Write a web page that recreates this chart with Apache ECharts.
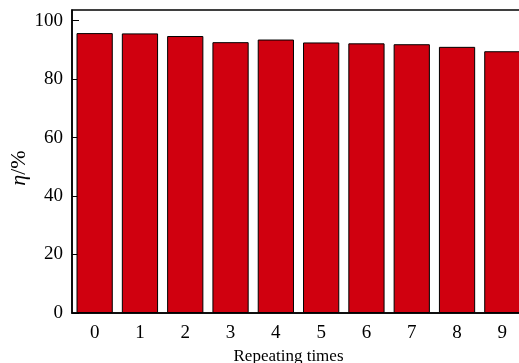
<!DOCTYPE html>
<html><head><meta charset="utf-8">
<script src="https://cdn.jsdelivr.net/npm/echarts@6/dist/echarts.min.js"></script>
<style>html,body{margin:0;padding:0;background:#fff}#c{width:519px;height:363px}</style>
</head><body><div id="c"></div>
<script>
const categories = ['0','1','2','3','4','5','6','7','8','9'];
const efficiency = [95.7, 95.6, 94.7, 92.6, 93.5, 92.5, 92.2, 91.9, 91.0, 89.5];
const yTicks = [0, 20, 40, 60, 80, 100];

const chart = echarts.init(document.getElementById('c'));
const font = 'Liberation Serif, Times New Roman, serif';
chart.setOption({
  animation: false,
  grid: {left: 72, right: -6, top: 10, bottom: 50, show: true, borderColor: '#000', borderWidth: 1.5,
    containLabel: false, outerBoundsMode: 'none'},
  xAxis: {
    type: 'category', data: categories,
    name: 'Repeating times', nameLocation: 'middle', nameGap: 32,
    nameTextStyle: {fontFamily: font, fontSize: 17, color: '#000', padding: [0, 20, 0, 0]},
    axisLine: {lineStyle: {color: '#000', width: 1.5}},
    axisTick: {inside: true, alignWithLabel: true, length: 6, lineStyle: {color: '#000'}},
    axisLabel: {fontFamily: font, fontSize: 19, color: '#000', margin: 11}
  },
  yAxis: {
    type: 'value', min: 0, max: 103.6, interval: 20,
    name: '{i|η}/%', nameLocation: 'middle', nameGap: 42, nameRotate: 90, nameMoveOverlap: false,
    nameTextStyle: {fontFamily: font, fontSize: 22, color: '#000',
      rich: {i: {fontFamily: font, fontStyle: 'italic', fontSize: 22, color: '#000'}}, padding: [0, 13, 0, 0]},
    axisLine: {show: true, lineStyle: {color: '#000', width: 1.5}},
    axisTick: {show: true, inside: true, length: 7, lineStyle: {color: '#000'}},
    axisLabel: {fontFamily: font, fontSize: 19, color: '#000', margin: 9, showMaxLabel: false,
      formatter: v => yTicks.includes(v) ? String(v) : ''},
    splitLine: {show: false}
  },
  series: [{
    type: 'bar', data: efficiency, barCategoryGap: '20%',
    itemStyle: {color: '#d0000f', borderColor: '#000', borderWidth: 1}
  }]
});
</script></body></html>
